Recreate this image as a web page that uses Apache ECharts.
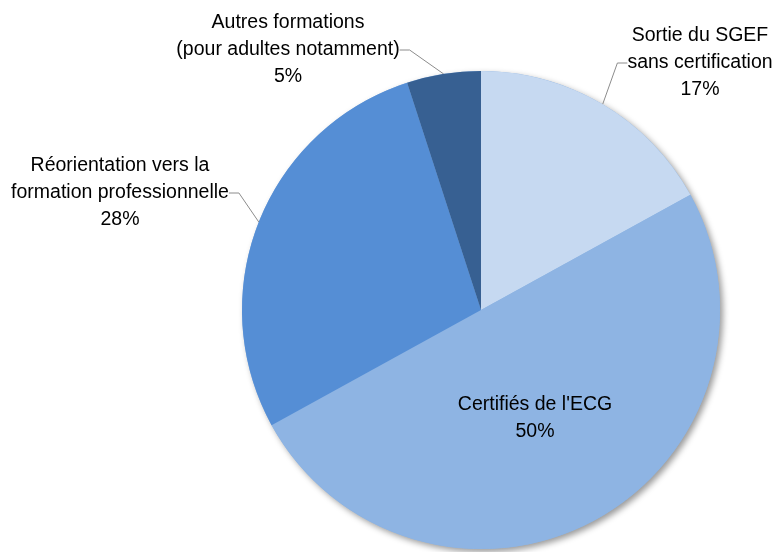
<!DOCTYPE html>
<html><head><meta charset="utf-8">
<script src="https://cdn.jsdelivr.net/npm/echarts@6/dist/echarts.min.js"></script>
<style>html,body{margin:0;padding:0;background:#fff}#c{width:775px;height:552px}</style>
</head><body><div id="c"></div>
<script>
const categories = ["Sortie du SGEF\nsans certification", "Certifiés de l'ECG", "Réorientation vers la\nformation professionnelle", "Autres formations\n(pour adultes notamment)"];
const values = [17, 50, 28, 5];
const colors = ["#c6d9f1", "#8eb4e3", "#558ed5", "#376092"];
const labelSpots = [[700, 63], [535, 418], [120, 193], [288, 50]];

const total = values.reduce((a, b) => a + b, 0);
const chart = echarts.init(document.getElementById('c'));
chart.setOption({
  animation: false,
  series: [{
    type: 'pie', silent: true, z: 1,
    center: [481, 310], radius: 239,
    label: { show: false }, labelLine: { show: false },
    data: [{ value: total, itemStyle: { color: '#8eb4e3', shadowBlur: 6, shadowOffsetX: 3, shadowOffsetY: 3, shadowColor: 'rgba(0,0,0,0.4)' } }]
  }, {
    type: 'pie', z: 2,
    center: [481, 310],
    radius: 239,
    startAngle: 90,
    clockwise: true,
    data: categories.map((n, i) => ({
      name: n, value: values[i],
      itemStyle: { color: colors[i] },
      label: i === 1 ? { position: 'inside' } : { position: 'outside' }
    })),
    label: {
      formatter: p => p.name + '\n' + p.value + '%',
      fontFamily: 'Liberation Sans, Arial, sans-serif',
      fontSize: 19.5, color: '#000', lineHeight: 27, align: 'center',
      overflow: 'none'
    },
    labelLine: { show: true, length: 12, length2: 10, lineStyle: { color: '#8c8c8c', width: 1 } },
    labelLayout: function (p) {
      const s = labelSpots[p.dataIndex];
      return { x: s[0], y: s[1], align: 'center', verticalAlign: 'middle' };
    }
  }]
});
</script></body></html>
